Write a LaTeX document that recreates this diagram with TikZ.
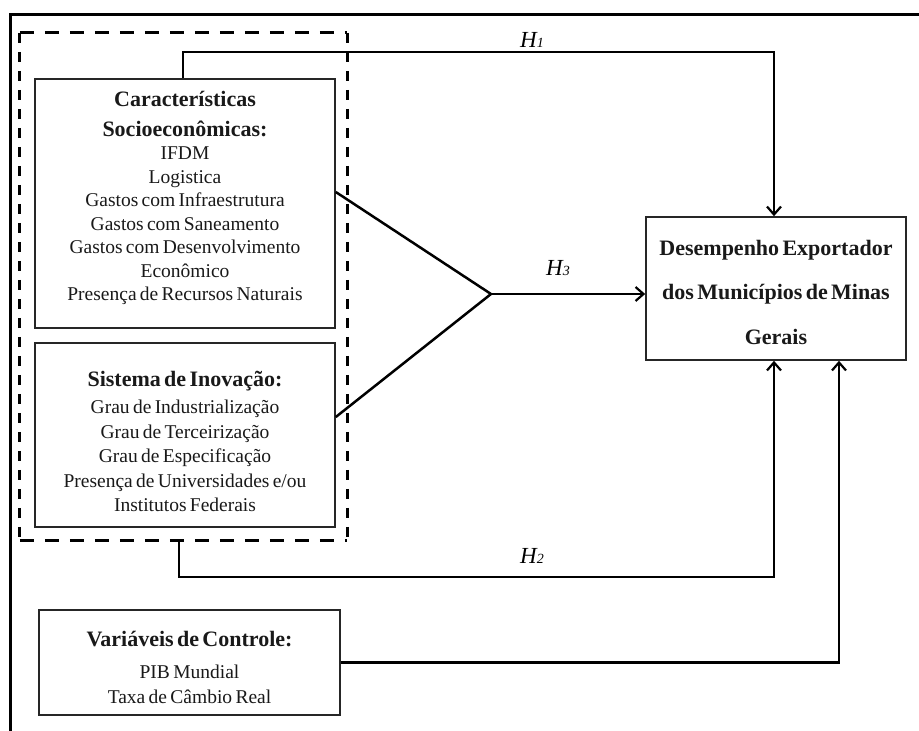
\documentclass[tikz,border=0pt]{standalone}
\usepackage{fontspec}
\setmainfont{Liberation Serif}
\usetikzlibrary{arrows.meta}
\newcommand\titlefnt{\fontsize{22}{30}\selectfont\bfseries}
\newcommand\bodyfnt{\fontsize{19.5}{23.5}\selectfont\mdseries}
\newcommand\hyp[1]{{\fontsize{23}{23}\selectfont\itshape H\kern0.3pt{\fontsize{14}{14}\selectfont #1}}}
\begin{document}
\begin{tikzpicture}[x=1pt,y=-1pt,
  box/.style={draw=black!85, line width=1.6pt, inner sep=0pt},
  conn/.style={line width=2.5pt, black},
  arr/.style={conn, -{Straight Barb[length=8pt,width=14pt,line width=2.2pt]}},
  txt/.style={align=center, inner sep=0pt, text=black!90},
  dashH/.style={line width=3pt, dash pattern=on 14pt off 11pt},
  dashV/.style={line width=3pt, dash pattern=on 10pt off 9pt},
  hl/.style={inner sep=0pt}]
\useasboundingbox (0,0) rectangle (919,731);
% outer frame
\draw[line width=3pt] (10.5,731) -- (10.5,14) -- (919,14);
% boxes
\node[box, minimum width=300pt, minimum height=249pt] (soc) at (185,203.5) {};
\node[box, minimum width=300pt, minimum height=184pt] (inn) at (185,435) {};
\node[box, minimum width=260pt, minimum height=143pt] (tgt) at (776,288.5) {};
\node[box, minimum width=301pt, minimum height=105pt] (ctl) at (189.5,662.5) {};
% dashed group
\node[inner sep=0pt, minimum width=327pt, minimum height=507pt] (grp) at (183.5,286.5) {};
\draw[dashH] (grp.north west) -- (grp.north east);
\draw[dashH] (grp.south west) -- (grp.south east);
\draw[dashV] (grp.north west) -- (grp.south west);
\draw[dashV] (grp.north east) -- (grp.south east);
% texts
\node[txt, text width=300pt] (soct) at (185,198) {\titlefnt Características\par Socioeconômicas:\par
  \bodyfnt IFDM\par Logistica\par Gastos com Infraestrutura\par Gastos com Saneamento\par
  Gastos com Desenvolvimento\par Econômico\par Presença de Recursos Naturais\par};
\node[txt, text width=300pt] (innt) at (185,441.5) {{\fontsize{22}{28}\selectfont\bfseries Sistema de Inovação:\par}
  {\fontsize{19.5}{27}\selectfont Grau de Industrialização\par}
  {\fontsize{19.5}{24.5}\selectfont Grau de Terceirização\par Grau de Especificação\par
  Presença de Universidades e/ou\par Institutos Federais\par}};
\node[txt, text width=260pt] (tgtt) at (776,292) {\fontsize{22}{44.5}\selectfont\bfseries Desempenho Exportador\par dos Municípios de Minas\par Gerais\par};
\node[txt, text width=301pt] (ctlt) at (189.5,667.5) {{\fontsize{22}{30}\selectfont\bfseries Variáveis de Controle:\par}
  {\fontsize{19.5}{32}\selectfont PIB Mundial\par}
  {\fontsize{19.5}{25}\selectfont Taxa de Câmbio Real\par}};
% connectors
\coordinate (m) at (491,294);
\coordinate (h2) at (179,577);
\draw[arr] ([xshift=-2pt]soc.north) -- ++(0,-26) -| ([xshift=-2pt]tgt.north);
\draw[conn] ([yshift=11.5pt]soc.east) -- (m);
\draw[conn] ([yshift=18pt]inn.east) -- (m);
\draw[arr] (m) -- (m -| tgt.west);
\draw[arr] (grp.south -| h2) -- (h2) -| ([xshift=-2pt]tgt.south);
\draw[arr] (ctl.east) -| ([xshift=63pt]tgt.south);
% labels
\node[hl] (l1) at (532,40) {\hyp{1}};
\node[hl] (l3) at (558,268) {\hyp{3}};
\node[hl] (l2) at (532,556) {\hyp{2}};
\end{tikzpicture}
\end{document}
